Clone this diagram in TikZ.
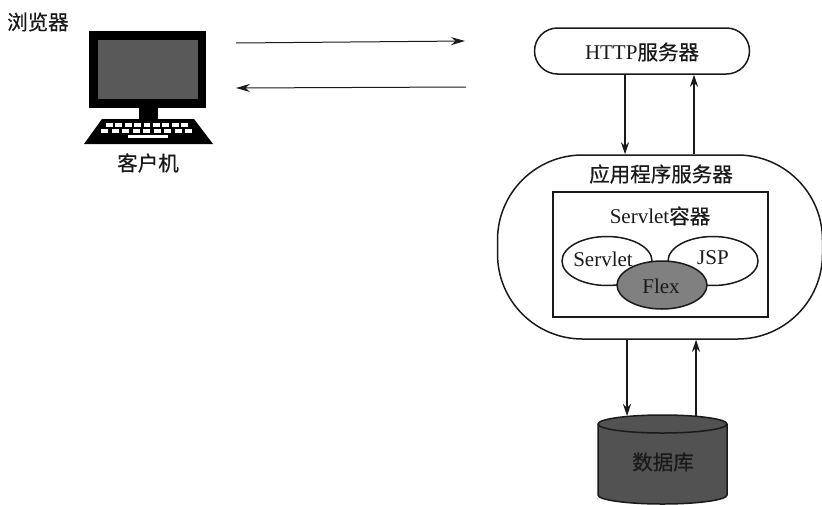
\documentclass[tikz,border=0pt]{standalone}
\usepackage{fontspec}
\setmainfont{Liberation Serif}
\newfontfamily\cjk[FakeBold=0.5]{Noto Sans CJK SC}
\usetikzlibrary{arrows.meta}
\usetikzlibrary{shapes.geometric}
\definecolor{ink}{HTML}{1A1A1A}
\tikzset{
  lbl/.style={font=\fontsize{21}{24}\selectfont, text=ink, inner sep=0pt},
  cjklbl/.style={font=\fontsize{20.5}{24}\selectfont\cjk, text=ink, inner sep=0pt},
  hlink/.style={draw=ink, line width=1pt, -{Stealth[length=14pt,width=8pt]}},
  link/.style={draw=ink, line width=1.2pt, -{Stealth[length=12pt,width=8pt]}},
  outline/.style={draw=ink, line width=1.5pt},
  lobe/.style={ellipse, outline, fill=white, minimum width=90pt, minimum height=49pt, inner sep=0pt},
  keycap/.style={fill=white, draw=none}
}
\begin{document}
\begin{tikzpicture}[x=1pt,y=-1pt]
\useasboundingbox (0,0) rectangle (822,504);
\node[cjklbl,anchor=west] (browser) at (7,22) {浏览器};
% client computer
\fill[black] (89,31) rectangle (206,108);
\fill[black!65] (98,40) rectangle (198,99);
\fill[black] (139,108) rectangle (158,120);
\fill[black] (84,144) -- (213,144) -- (194,119) -- (102,119) -- cycle;
\foreach \i in {0,...,8}{
  \fill[keycap] ({106+\i*9.4},123.2) rectangle +(6.8,3.8);
  \fill[keycap] ({101+\i*10.5},129.2) rectangle +(7.2,3.8);
}
\fill[keycap] (128,135.2) rectangle (168,138.4);
\node[cjklbl] (client) at (148,163) {客户机};
\coordinate (cout) at (236,43);
\coordinate (cin) at (236,88);
\coordinate (hin) at (465,41);
\coordinate (hout) at (466,87);
\draw[hlink] (cout) -- (hin);
\draw[hlink] (hout) -- (cin);
% HTTP server
\node[outline, rounded corners=23pt, minimum width=215pt, minimum height=46pt, inner sep=0pt, fill=white] (http) at (642,51) {};
\node[lbl] (httpt) at (642,52) {HTTP{\cjk\fontsize{20.5}{24}\selectfont 服务器}};
% app server
\node[outline, rounded corners=85pt, minimum width=325pt, minimum height=184pt, inner sep=0pt] (app) at (660,247) {};
\node[cjklbl] (appt) at (661,174) {应用程序服务器};
\node[outline, minimum width=215pt, minimum height=125pt, inner sep=0pt] (cont) at (660.5,254.5) {};
\node[lbl] (contt) at (660,216) {Servlet{\cjk\fontsize{20.5}{24}\selectfont 容器}};
\node[lobe] (servlet) at (607,261) {};
\node[lobe] (jsp) at (713,261) {};
\node[lobe, fill=black!50, minimum height=48pt] (flex) at (662,285) {};
\node[lbl] (servt) at (603,259) {Servlet};
\node[lbl] (jspt) at (713,258) {JSP};
\node[lbl] (flext) at (661,286) {Flex};
% database
\fill[black!68] (598,424) .. controls (598,419) and (627,415) .. (662.5,415)
  .. controls (698,415) and (727,419) .. (727,424) -- (727,495)
  .. controls (727,500) and (698,504) .. (662.5,504)
  .. controls (627,504) and (598,500) .. (598,495) -- cycle;
\draw[outline] (598,495) -- (598,424) .. controls (598,419) and (627,415) .. (662.5,415)
  .. controls (698,415) and (727,419) .. (727,424) -- (727,495)
  .. controls (727,500) and (698,504) .. (662.5,504)
  .. controls (627,504) and (598,500) .. (598,495);
\draw[outline] (598,424) .. controls (598,429) and (627,433) .. (662.5,433)
  .. controls (698,433) and (727,429) .. (727,424);
\node[cjklbl, text=black!90] (dbt) at (663,462) {数据库};
% vertical connectors
\path (http.south) ++(-17,0) coordinate (ha);
\path (http.south) ++(52,0) coordinate (hb);
\path (app.north) ++(-35,0) coordinate (aa);
\path (app.north) ++(34,0) coordinate (ab);
\path (app.south) ++(-33,0) coordinate (ac);
\path (app.south) ++(36,0) coordinate (ad);
\coordinate (da) at (627,416);
\coordinate (db1) at (696,416);
\draw[link] (ha) -- (aa);
\draw[link] (ab) -- (hb);
\draw[link] (ac) -- (da);
\draw[link] (db1) -- (ad);
\end{tikzpicture}
\end{document}
